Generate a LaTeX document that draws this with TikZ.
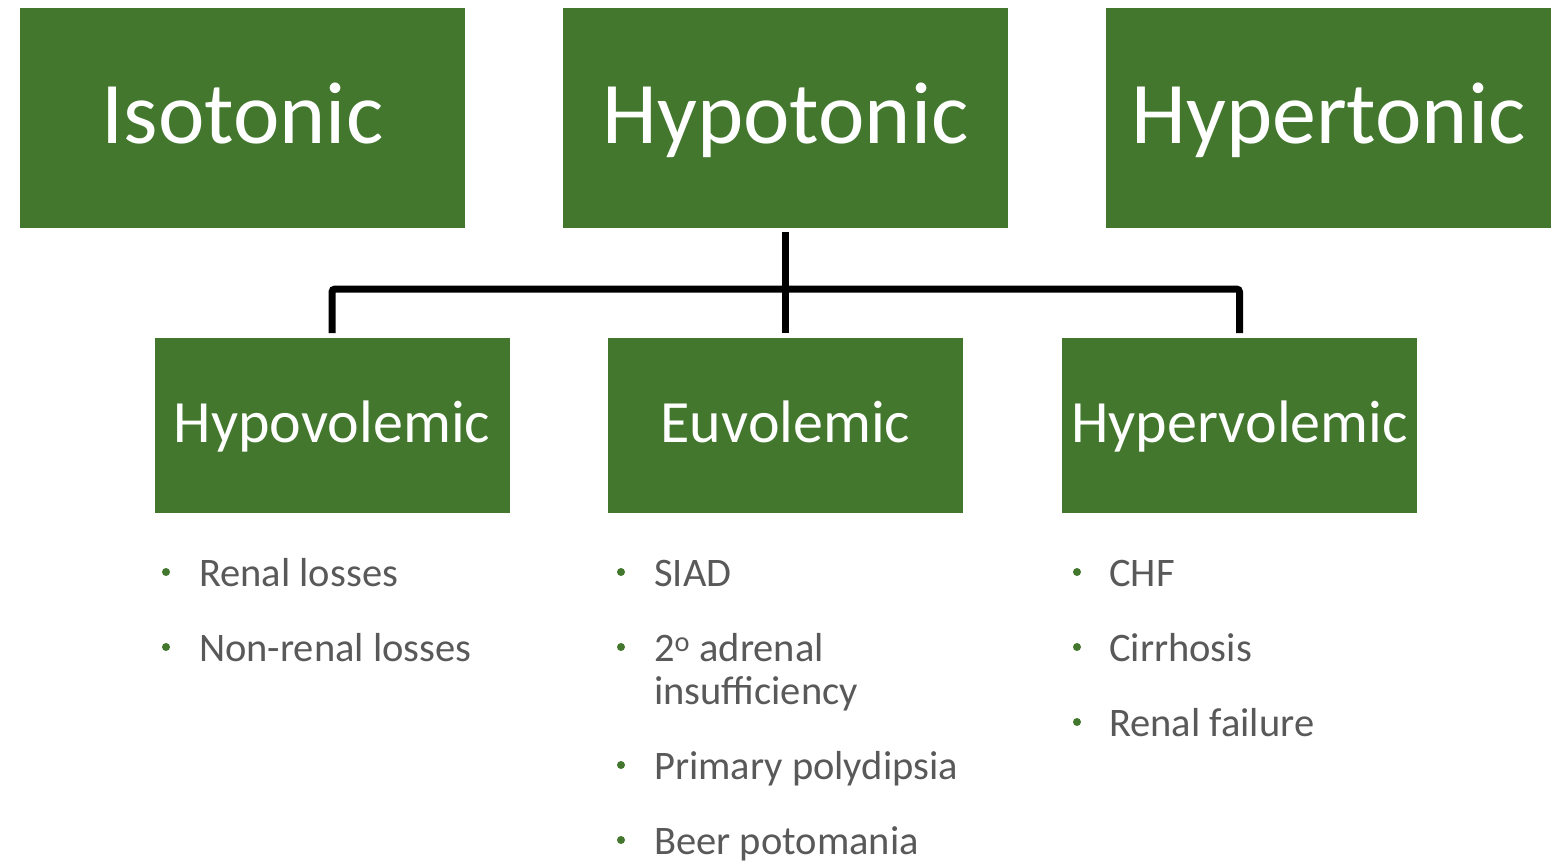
\documentclass[tikz,border=0pt]{standalone}
\usepackage{fontspec}
\setmainfont{Carlito}
\definecolor{boxgreen}{HTML}{42772D}
\definecolor{txtgray}{HTML}{595959}
\tikzset{
  bigbox/.style={fill=boxgreen, draw=none, inner sep=0pt, minimum width=445pt, minimum height=220pt,
    text=white, font=\fontsize{88}{88}\selectfont, text height=60pt, text depth=10pt},
  midbox/.style={fill=boxgreen, draw=none, inner sep=0pt, minimum width=355pt, minimum height=175pt,
    text=white, font=\fontsize{60}{60}\selectfont, text height=40pt, text depth=7pt},
  item/.style={anchor=base west, inner sep=0pt, text=txtgray, font=\fontsize{40.5}{40.5}\selectfont},
  dotmark/.style={circle, fill=boxgreen, inner sep=0pt, minimum size=8pt},
  conn/.style={draw=black, line width=7pt, rounded corners=3pt}
}
\begin{document}
\begin{tikzpicture}[x=1pt,y=-1pt]
\useasboundingbox (0,0) rectangle (1558,864);
\node[bigbox] (iso) at (242.5,118) {Isotonic};
\node[bigbox] (hypo) at (785.5,118) {Hypotonic};
\node[bigbox] (hyper) at (1328.5,118) {Hypertonic};
\node[midbox] (hypov) at (332,425.5) {Hypovolemic};
\node[midbox] (euv) at (785.5,425.5) {Euvolemic};
\node[midbox] (hyperv) at (1239.5,425.5) {Hypervolemic};
\coordinate (top) at (785.5,232);
\coordinate (junc) at (785.5,289);
\coordinate (jl) at (332,289);
\coordinate (jr) at (1239.5,289);
\coordinate (bl) at (332,333);
\coordinate (bm) at (785.5,333);
\coordinate (br) at (1239.5,333);
\draw[conn] (top) -- (bm);
\draw[conn] (bl) -- (jl) -- (jr) -- (br);
% bullets
\node[dotmark] (d1) at (166,572) {};
\node[item] (t1) at (199,586) {Renal losses};
\node[dotmark] (d2) at (166,647) {};
\node[item] (t2) at (199,661) {Non-renal losses};
\node[dotmark] (d3) at (621,572) {};
\node[item] (t3) at (654,586) {SIAD};
\node[dotmark] (d4) at (621,647) {};
\node[item] (t4) at (654,661) {2\textsuperscript{o} adrenal};
\node[item] (t4b) at (654,704) {insufficiency};
\node[dotmark] (d5) at (621,765) {};
\node[item] (t5) at (654,779) {Primary polydipsia};
\node[dotmark] (d6) at (621,840) {};
\node[item] (t6) at (654,854) {Beer potomania};
\node[dotmark] (d7) at (1077,572) {};
\node[item] (t7) at (1109,586) {CHF};
\node[dotmark] (d8) at (1077,647) {};
\node[item] (t8) at (1109,661) {Cirrhosis};
\node[dotmark] (d9) at (1077,722) {};
\node[item] (t9) at (1109,736) {Renal failure};
\end{tikzpicture}
\end{document}
